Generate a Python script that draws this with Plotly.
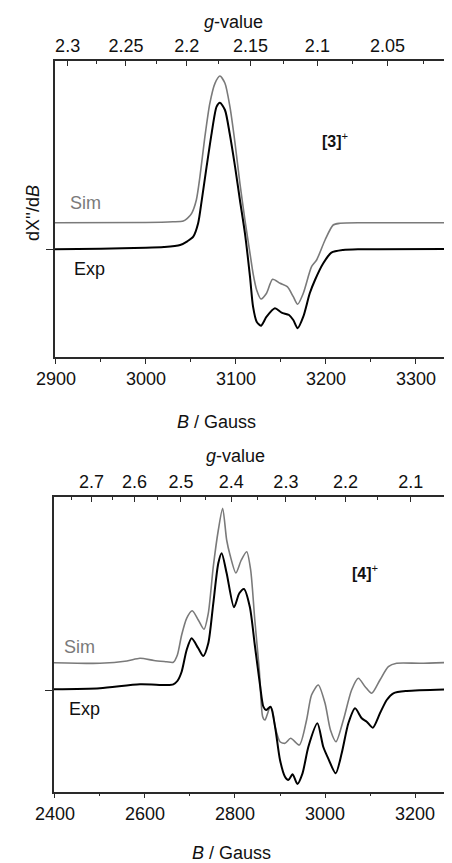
import plotly.graph_objects as go

# ---------------- data ----------------
# conversion constant g * B (Gauss) for the microwave frequency used
GB_CONST = 6700.0

# Panel [3]+ : field (G) and signal (arb. units, Exp baseline = 0)
b3_exp = [2899, 2950, 3000, 3020, 3038, 3046, 3052.6, 3058, 3062, 3067.4, 3073, 3078.5,
          3082.2, 3087.8, 3093, 3099, 3104.4, 3110, 3115.6, 3119, 3123, 3127.8, 3134,
          3143.3, 3150.7, 3159, 3163.7, 3168.5, 3174.8, 3182, 3187.8, 3197, 3206, 3219,
          3238, 3340]
y3_exp = [0, 0.6, 1.5, 2.3, 4.3, 8, 12.6, 26, 49, 82.6, 116, 142.6,
          146.6, 139.3, 116, 82.6, 49.3, 16, -27.4, -57.4, -72.4, -76.4, -67.4,
          -59, -63.4, -65.7, -70.7, -79, -67.4, -44, -30.7, -14, -3.4, -0.7,
          0, 0.3]

b3_sim = [2899, 3000, 3030, 3041.5, 3046, 3050.8, 3056, 3060, 3065.5, 3071, 3076.7,
          3082.2, 3087.8, 3093.3, 3099, 3104.4, 3110, 3115.6, 3119, 3123, 3127.8, 3134,
          3140.7, 3149, 3157, 3163.7, 3168.5, 3174.8, 3184, 3189.6, 3199, 3208, 3215.6,
          3240, 3340]
y3_sim = [26.6, 26.8, 27.5, 28.3, 31, 36, 49.3, 72.6, 112.6, 146, 166,
          173.3, 166, 142.6, 106, 66, 29.3, -4, -24, -40.7, -49.7, -44,
          -30, -34, -37.4, -47.4, -55, -44, -17.4, -10.7, 9.3, 24.3, 26,
          26.6, 26.6]

# Panel [4]+
b4_exp = [2398, 2500, 2589, 2648, 2663, 2672, 2681.5, 2692.6, 2703.7, 2718.5, 2729.6,
          2740.7, 2751.8, 2762.9, 2770.4, 2781.5, 2797.8, 2809.6, 2820, 2833, 2844,
          2855.6, 2863, 2869, 2879, 2889, 2900, 2911, 2918.5, 2928, 2938.5, 2950,
          2963, 2983, 2996, 3007, 3023.7, 3037, 3051.8, 3066.7, 3081.5, 3092.6, 3106,
          3122, 3137, 3151.8, 3181.5, 3282]
y4_exp = [0.7, 1.7, 5.7, 5, 5.7, 9, 18.3, 40, 51.7, 41.7, 34,
          46.7, 86.7, 126.7, 136.7, 116.7, 82.7, 96.7, 101, 83, 45,
          5, -16.7, -20, -16.7, -36.7, -70, -86.7, -90, -84.3, -94, -83.3,
          -56.7, -33.3, -56.7, -68.3, -83.3, -63.3, -33.3, -18.3, -28.3, -31.7, -37.7,
          -23.3, -10, -3.3, -1, 0.7]

b4_sim = [2398, 2500, 2560, 2589, 2620, 2648, 2663, 2672, 2681.5, 2692.6, 2705, 2718.5,
          2731, 2740.7, 2751.8, 2763, 2772.6, 2781.5, 2789, 2802, 2814, 2826, 2834.8,
          2844, 2854, 2861.5, 2866.7, 2872, 2878, 2883, 2889, 2900, 2911, 2923.7, 2943,
          2959, 2970, 2985, 3000, 3012, 3024.4, 3040.7, 3059, 3074, 3089, 3103.7, 3122,
          3140.7, 3159, 3211, 3282]
y4_sim = [27.3, 26.7, 29, 31.7, 29.5, 28.3, 27.7, 35, 55, 71.7, 79.3, 70,
          60.7, 76.7, 123.3, 160, 181.7, 150, 135, 117, 130, 138.3, 120,
          70, 20, -26.7, -30, -24, -16.7, -20, -36.7, -51.7, -53.3, -48.3, -55,
          -30, -5, 5, -13.3, -40, -51.7, -30, 0, 11.7, 3.3, -3.3, 10,
          23.3, 26.7, 26.7, 27.7]

# axis tick labels
b3_ticks = [2900, 3000, 3100, 3200, 3300]
g3_ticks = [2.3, 2.25, 2.2, 2.15, 2.1, 2.05]
g3_minor = [2.275, 2.225, 2.175, 2.125, 2.075, 2.025]
b4_ticks = [2400, 2600, 2800, 3000, 3200]
g4_ticks = [2.7, 2.6, 2.5, 2.4, 2.3, 2.2, 2.1]
g4_minor = [2.75, 2.65, 2.55, 2.45, 2.35, 2.25, 2.15, 2.05]

# ---------------- figure ----------------
# the page body has an 8px margin, so the figure is laid out 8px up/left
OFF = 8
W, H = 452 - OFF, 863 - OFF
FONT = "Liberation Sans, Arial, sans-serif"
AXC = "#2a2a2a"
SIMC = "#7a7a7a"

def px(x):
    return (x - OFF) / W

def py(y):
    return 1 - (y - OFF) / H

fig = go.Figure()
fig.add_trace(go.Scatter(x=b3_sim, y=y3_sim, mode="lines", xaxis="x", yaxis="y",
                         line=dict(color=SIMC, width=1.6, shape="spline", smoothing=0.7),
                         showlegend=False, hoverinfo="skip"))
fig.add_trace(go.Scatter(x=b3_exp, y=y3_exp, mode="lines", xaxis="x", yaxis="y",
                         line=dict(color="#000000", width=2, shape="spline", smoothing=0.7),
                         showlegend=False, hoverinfo="skip"))
fig.add_trace(go.Scatter(x=[None], y=[None], xaxis="x2", yaxis="y", showlegend=False))
fig.add_trace(go.Scatter(x=b4_sim, y=y4_sim, mode="lines", xaxis="x3", yaxis="y2",
                         line=dict(color=SIMC, width=1.6, shape="spline", smoothing=0.7),
                         showlegend=False, hoverinfo="skip"))
fig.add_trace(go.Scatter(x=b4_exp, y=y4_exp, mode="lines", xaxis="x3", yaxis="y2",
                         line=dict(color="#000000", width=2, shape="spline", smoothing=0.7),
                         showlegend=False, hoverinfo="skip"))
fig.add_trace(go.Scatter(x=[None], y=[None], xaxis="x4", yaxis="y2", showlegend=False))

tickfont = dict(family=FONT, size=18, color="#111111")
common = dict(showline=True, linecolor=AXC, linewidth=1.5, showgrid=False, zeroline=False,
              tickcolor=AXC, tickwidth=1.3, tickfont=tickfont, automargin=False)

r3 = [2899, 3340]
r4 = [2398, 3282]

fig.update_layout(
    template="none", autosize=False,
    width=W, height=H, margin=dict(l=0, r=0, t=0, b=0, pad=0, autoexpand=False),
    paper_bgcolor="white", plot_bgcolor="white",
    xaxis=dict(domain=[px(55), 1], anchor="y", range=r3, tickmode="array", tickvals=b3_ticks,
               ticks="outside", ticklen=5,
               minor=dict(ticks="outside", ticklen=3, tickmode="array",
                          tickvals=[t + 50 for t in b3_ticks], tickcolor=AXC, tickwidth=1.2),
               **common),
    xaxis2=dict(overlaying="x", side="top", anchor="y", range=r3, tickmode="array",
                tickvals=[GB_CONST / g for g in g3_ticks], ticktext=[f"{g:g}" for g in g3_ticks],
                ticks="inside", ticklen=5,
                minor=dict(ticks="inside", ticklen=3, tickmode="array",
                           tickvals=[GB_CONST / g for g in g3_minor], tickcolor=AXC, tickwidth=1.2),
                **common),
    yaxis=dict(domain=[py(357), py(61)], anchor="x", range=[-107.7, 188.3], tickmode="array",
               tickvals=[0], showticklabels=False, ticks="outside", ticklen=7, **common),
    xaxis3=dict(domain=[px(54), 1], anchor="y2", range=r4, tickmode="array", tickvals=b4_ticks,
                ticks="outside", ticklen=5,
                minor=dict(ticks="outside", ticklen=3, tickmode="array",
                           tickvals=[t + 100 for t in b4_ticks], tickcolor=AXC, tickwidth=1.2),
                **common),
    xaxis4=dict(overlaying="x3", side="top", anchor="y2", range=r4, tickmode="array",
                tickvals=[GB_CONST / g for g in g4_ticks], ticktext=[f"{g:g}" for g in g4_ticks],
                ticks="inside", ticklen=5,
                minor=dict(ticks="inside", ticklen=3, tickmode="array",
                           tickvals=[GB_CONST / g for g in g4_minor], tickcolor=AXC, tickwidth=1.2),
                **common),
    yaxis2=dict(domain=[py(791.7), py(497.3)], anchor="x3", range=[-101.7, 192.7], tickmode="array",
                tickvals=[0], showticklabels=False, ticks="outside", ticklen=7, **common),
)

def ann(text, x, y, xanchor="center", color="#111111", size=18, angle=0):
    fig.add_annotation(text=text, x=px(x), y=py(y), xref="paper", yref="paper",
                       xanchor=xanchor, yanchor="middle", showarrow=False, textangle=angle,
                       font=dict(family=FONT, size=size, color=color))

ann("<i>g</i>-value", 233, 21.7)
ann("<i>B</i> / Gauss", 216, 422)
ann("Sim", 68, 203.3, xanchor="left", color=SIMC)
ann("Exp", 72, 269.3, xanchor="left")
ann("<b>[3]</b><sup>+</sup>", 320, 140, xanchor="left", size=16)
ann("dX''/d<i>B</i>", 33, 213, angle=-90)

ann("<i>g</i>-value", 235, 455.7)
ann("<i>B</i> / Gauss", 231, 853)
ann("Sim", 62, 647, xanchor="left", color=SIMC)
ann("Exp", 67, 709, xanchor="left")
ann("<b>[4]</b><sup>+</sup>", 350, 571.7, xanchor="left", size=16)

fig.write_html("out.html", config={"responsive": False})
